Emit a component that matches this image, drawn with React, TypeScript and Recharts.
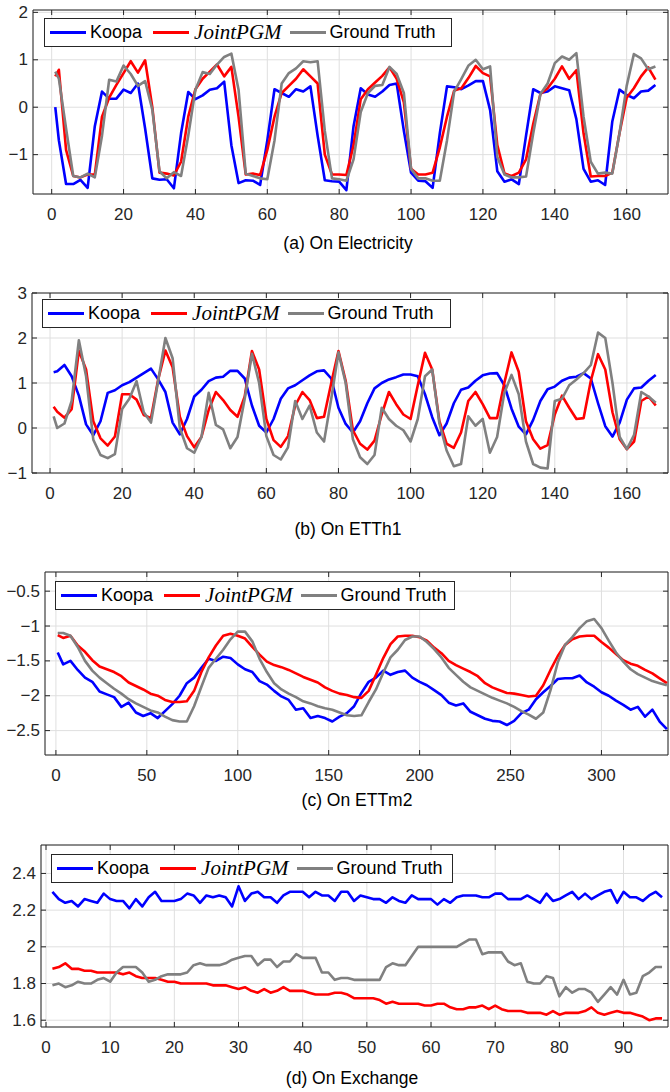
import React from "react";
import { CartesianGrid, Line, LineChart, ReferenceArea, XAxis, YAxis } from "recharts";

const BLUE = "#0000ff";
const RED = "#ff0000";
const GRAY = "#808080";
const AXIS = "#262626";
const GRID = "#dfdfdf";
const SANS = "'Liberation Sans', Arial, Helvetica, sans-serif";
const SERIF = "'Liberation Serif', 'Times New Roman', serif";

const seriesNames = ["Koopa", "JointPGM", "Ground Truth"];

// (a) Electricity, hourly steps
const elecX = [1, 2, 4, 6, 8, 10, 12, 14, 16, 18, 20, 22, 24, 26, 28, 30, 32, 34, 36, 38, 40, 42, 44, 46, 48, 50, 52, 54, 56, 58, 60, 62, 64, 66, 68, 70, 72, 74, 76, 78, 80, 82, 84, 86, 88, 90, 92, 94, 96, 98, 100, 102, 104, 106, 108, 110, 112, 114, 116, 118, 120, 122, 124, 126, 128, 130, 132, 134, 136, 138, 140, 142, 144, 146, 148, 150, 152, 154, 156, 158, 160, 162, 164, 166, 168];
const elecKoopa = [0, -0.7, -1.62, -1.62, -1.53, -1.7, -0.4, 0.33, 0.18, 0.18, 0.37, 0.3, 0.5, -0.45, -1.5, -1.53, -1.52, -1.71, -0.55, 0.32, 0.17, 0.25, 0.37, 0.4, 0.54, -0.8, -1.6, -1.54, -1.55, -1.64, -0.7, 0.38, 0.3, 0.22, 0.38, 0.33, 0.44, -0.6, -1.54, -1.56, -1.57, -1.75, -0.4, 0.4, 0.27, 0.22, 0.33, 0.47, 0.5, -0.5, -1.38, -1.55, -1.56, -1.7, -0.55, 0.44, 0.42, 0.38, 0.46, 0.55, 0.55, -0.06, -1.35, -1.57, -1.52, -1.62, -0.6, 0.38, 0.3, 0.33, 0.44, 0.4, 0.36, -0.25, -1.3, -1.57, -1.54, -1.64, -0.3, 0.37, 0.26, 0.19, 0.33, 0.35, 0.47];
const elecJoint = [0.65, 0.79, -0.9, -1.45, -1.48, -1.42, -1.42, -0.2, 0.2, 0.47, 0.72, 0.97, 0.73, 0.99, 0.0, -1.38, -1.4, -1.44, -1.15, -0.2, 0.38, 0.6, 0.75, 0.9, 0.65, 0.85, -0.2, -1.42, -1.4, -1.43, -0.9, -0.2, 0.3, 0.45, 0.6, 0.8, 0.65, 0.5, -1.0, -1.42, -1.42, -1.43, -0.8, 0.17, 0.38, 0.52, 0.66, 0.84, 0.6, 0.1, -1.3, -1.42, -1.42, -1.38, -0.85, -0.2, 0.35, 0.4, 0.62, 0.87, 0.72, 0.65, -0.8, -1.4, -1.45, -1.38, -1.1, -0.35, 0.28, 0.4, 0.6, 0.86, 0.6, 0.78, -0.55, -1.46, -1.45, -1.45, -1.38, -0.55, 0.2, 0.4, 0.65, 0.84, 0.58];
const elecTruth = [0.75, 0.6, -0.45, -1.45, -1.48, -1.4, -1.48, -0.6, 0.58, 0.54, 0.88, 0.7, 0.45, 0.55, -0.05, -1.35, -1.5, -1.37, -1.45, -0.6, 0.37, 0.74, 0.7, 0.9, 1.06, 1.13, 0.37, -1.4, -1.45, -1.5, -1.52, -0.7, 0.5, 0.72, 0.82, 0.97, 0.95, 0.97, -0.5, -1.5, -1.52, -1.55, -1.1, -0.1, 0.3, 0.45, 0.47, 0.85, 0.7, 0.3, -1.3, -1.5, -1.5, -1.55, -1.55, -0.7, 0.33, 0.6, 0.88, 1.0, 0.8, 0.86, -1.05, -1.42, -1.48, -1.48, -1.46, -0.55, 0.28, 0.5, 0.93, 1.07, 1.0, 1.14, -0.2, -1.15, -1.4, -1.38, -1.4, -0.55, 0.45, 1.12, 1.03, 0.8, 0.86];

// (b) ETTh1
const etth1X = elecX;
const etth1Koopa = [1.24, 1.26, 1.4, 1.15, 0.72, 0.08, -0.16, 0.15, 0.78, 0.84, 0.95, 1.02, 1.12, 1.22, 1.32, 1.08, 0.8, 0.12, -0.14, 0.2, 0.7, 0.85, 1.04, 1.12, 1.14, 1.27, 1.27, 1.1, 0.5, 0.05, -0.1, 0.2, 0.65, 0.88, 0.95, 1.06, 1.17, 1.26, 1.28, 1.1, 0.45, 0.09, -0.1, 0.15, 0.55, 0.88, 1.0, 1.08, 1.13, 1.19, 1.19, 1.15, 0.75, 0.24, -0.16, 0.1, 0.55, 0.85, 0.9, 1.05, 1.17, 1.21, 1.22, 0.95, 0.43, 0.03, -0.14, 0.18, 0.6, 0.86, 0.92, 1.05, 1.12, 1.14, 1.22, 1.1, 0.55, 0.04, -0.19, 0.12, 0.63, 0.88, 0.9, 1.05, 1.18];
const etth1Joint = [0.47, 0.36, 0.23, 0.42, 1.72, 1.3, 0.15, -0.23, -0.39, -0.19, 0.75, 0.75, 0.63, 0.29, 0.22, 1.08, 1.72, 1.35, 0.25, -0.18, -0.43, -0.2, 0.4, 0.8, 0.62, 0.4, 0.25, 0.7, 1.71, 1.3, 0.2, -0.27, -0.42, -0.18, 0.5, 0.8, 0.62, 0.22, 0.25, 1.0, 1.71, 1.05, -0.05, -0.35, -0.48, -0.28, 0.3, 0.8, 0.53, 0.3, 0.2, 0.95, 1.67, 1.3, 0.15, -0.35, -0.44, -0.1, 0.6, 0.8, 0.53, 0.22, 0.22, 1.0, 1.68, 1.25, 0.15, -0.25, -0.46, -0.38, 0.3, 0.72, 0.45, 0.2, 0.22, 1.05, 1.64, 1.3, 0.35, -0.25, -0.47, -0.3, 0.6, 0.7, 0.5];
const etth1Truth = [0.26, 0.0, 0.1, 0.6, 1.95, 1.15, -0.26, -0.6, -0.67, -0.58, 0.42, 0.65, 1.04, 0.35, 0.12, 1.05, 2.0, 1.55, 0.0, -0.45, -0.55, -0.2, 0.78, 0.07, -0.03, -0.45, -0.2, 0.65, 1.65, 1.0, -0.18, -0.6, -0.7, -0.43, 0.6, 0.2, 0.5, -0.1, -0.3, 0.65, 1.68, 1.0, -0.25, -0.65, -0.8, -0.6, 0.45, 0.2, 0.05, -0.05, -0.3, 0.2, 1.15, 1.3, 0.1, -0.5, -0.85, -0.8, 0.26, 0.05, 0.2, -0.55, -0.2, 0.78, 1.18, 0.75, -0.3, -0.8, -0.88, -0.9, 0.6, 0.65, 0.95, 1.08, 1.22, 1.4, 2.12, 2.0, 1.0, -0.2, -0.47, -0.15, 0.8, 0.7, 0.56];

// (c) ETTm2, 15-minute steps
const ettm2X = [1, 4, 8, 12, 16, 20, 24, 28, 32, 36, 40, 44, 48, 52, 56, 60, 64, 68, 72, 76, 80, 84, 88, 92, 96, 100, 104, 108, 112, 116, 120, 124, 128, 132, 136, 140, 144, 148, 152, 156, 160, 164, 168, 172, 176, 180, 184, 188, 192, 196, 200, 204, 208, 212, 216, 220, 224, 228, 232, 236, 240, 244, 248, 252, 256, 260, 264, 268, 272, 276, 280, 284, 288, 292, 296, 300, 304, 308, 312, 316, 320, 324, 328, 332, 336];
const ettm2Koopa = [-1.38, -1.55, -1.5, -1.63, -1.74, -1.8, -1.94, -1.98, -2.02, -2.16, -2.1, -2.24, -2.29, -2.25, -2.32, -2.22, -2.12, -2.0, -1.82, -1.74, -1.6, -1.47, -1.5, -1.44, -1.46, -1.55, -1.62, -1.66, -1.79, -1.84, -1.93, -2.01, -2.06, -2.2, -2.18, -2.32, -2.29, -2.32, -2.37, -2.3, -2.25, -2.15, -1.96, -1.8, -1.74, -1.64, -1.7, -1.66, -1.64, -1.74, -1.8, -1.85, -1.92, -1.99, -2.1, -2.14, -2.11, -2.23, -2.28, -2.33, -2.36, -2.37, -2.42, -2.36, -2.25, -2.2, -2.05, -1.95, -1.86, -1.76, -1.75, -1.75, -1.71, -1.81, -1.87, -1.95, -2.0, -2.07, -2.13, -2.2, -2.16, -2.3, -2.2, -2.37, -2.48];
const ettm2Joint = [-1.13, -1.17, -1.14, -1.28, -1.37, -1.49, -1.58, -1.62, -1.66, -1.72, -1.81, -1.86, -1.91, -1.97, -2.0, -2.06, -2.09, -2.09, -2.08, -1.93, -1.66, -1.45, -1.28, -1.14, -1.11, -1.14, -1.18, -1.3, -1.41, -1.51, -1.56, -1.59, -1.63, -1.68, -1.73, -1.77, -1.81, -1.88, -1.93, -1.97, -1.99, -2.02, -2.03, -1.93, -1.7, -1.46, -1.26, -1.15, -1.14, -1.14, -1.16, -1.21, -1.31, -1.39, -1.5, -1.56, -1.61, -1.66, -1.72, -1.82, -1.88, -1.92, -1.96, -1.97, -1.99, -2.01, -2.0, -1.85, -1.63, -1.43, -1.27, -1.19, -1.15, -1.14, -1.14, -1.23, -1.31, -1.4, -1.49, -1.54, -1.57, -1.63, -1.68, -1.75, -1.82];
const ettm2Truth = [-1.1, -1.1, -1.14, -1.3, -1.5, -1.64, -1.74, -1.82, -1.9, -1.97, -2.05, -2.11, -2.16, -2.21, -2.24, -2.3, -2.35, -2.37, -2.37, -2.15, -1.87, -1.6, -1.47, -1.34, -1.19, -1.08, -1.08, -1.22, -1.47, -1.66, -1.82, -1.91, -1.97, -2.02, -2.08, -2.11, -2.15, -2.18, -2.2, -2.24, -2.28, -2.29, -2.28, -2.09, -1.91, -1.67, -1.45, -1.34, -1.2, -1.15, -1.15, -1.23, -1.33, -1.45, -1.6, -1.7, -1.8, -1.88, -1.93, -1.98, -2.03, -2.07, -2.11, -2.16, -2.22, -2.27, -2.33, -2.24, -1.92, -1.52, -1.27, -1.16, -1.03, -0.93, -0.9, -1.03, -1.21, -1.38, -1.51, -1.62, -1.69, -1.74, -1.79, -1.82, -1.85];

// (d) Exchange, daily steps
const exchX = [1, 2, 3, 4, 5, 6, 7, 8, 9, 10, 11, 12, 13, 14, 15, 16, 17, 18, 19, 20, 21, 22, 23, 24, 25, 26, 27, 28, 29, 30, 31, 32, 33, 34, 35, 36, 37, 38, 39, 40, 41, 42, 43, 44, 45, 46, 47, 48, 49, 50, 51, 52, 53, 54, 55, 56, 57, 58, 59, 60, 61, 62, 63, 64, 65, 66, 67, 68, 69, 70, 71, 72, 73, 74, 75, 76, 77, 78, 79, 80, 81, 82, 83, 84, 85, 86, 87, 88, 89, 90, 91, 92, 93, 94, 95, 96];
const exchKoopa = [2.3, 2.26, 2.24, 2.25, 2.22, 2.26, 2.25, 2.24, 2.29, 2.26, 2.25, 2.25, 2.21, 2.26, 2.22, 2.27, 2.3, 2.25, 2.25, 2.25, 2.26, 2.29, 2.28, 2.24, 2.28, 2.27, 2.28, 2.27, 2.22, 2.33, 2.25, 2.29, 2.3, 2.27, 2.27, 2.24, 2.28, 2.3, 2.3, 2.3, 2.27, 2.3, 2.28, 2.28, 2.25, 2.3, 2.3, 2.25, 2.28, 2.27, 2.26, 2.26, 2.24, 2.27, 2.25, 2.24, 2.28, 2.26, 2.26, 2.26, 2.23, 2.26, 2.24, 2.27, 2.28, 2.28, 2.28, 2.27, 2.27, 2.29, 2.29, 2.26, 2.26, 2.26, 2.28, 2.26, 2.24, 2.29, 2.25, 2.26, 2.28, 2.3, 2.26, 2.29, 2.26, 2.28, 2.3, 2.31, 2.24, 2.3, 2.27, 2.27, 2.25, 2.28, 2.3, 2.27];
const exchJoint = [1.88, 1.89, 1.91, 1.88, 1.88, 1.87, 1.87, 1.86, 1.86, 1.86, 1.86, 1.85, 1.86, 1.84, 1.83, 1.83, 1.83, 1.82, 1.81, 1.81, 1.8, 1.8, 1.8, 1.8, 1.8, 1.79, 1.79, 1.79, 1.78, 1.77, 1.78, 1.76, 1.75, 1.77, 1.75, 1.76, 1.78, 1.76, 1.76, 1.76, 1.75, 1.74, 1.74, 1.74, 1.75, 1.75, 1.74, 1.72, 1.72, 1.72, 1.72, 1.71, 1.69, 1.7, 1.69, 1.69, 1.69, 1.69, 1.68, 1.68, 1.69, 1.69, 1.67, 1.66, 1.66, 1.67, 1.67, 1.68, 1.66, 1.68, 1.66, 1.65, 1.65, 1.65, 1.64, 1.64, 1.64, 1.63, 1.65, 1.63, 1.64, 1.64, 1.64, 1.65, 1.67, 1.64, 1.63, 1.64, 1.65, 1.64, 1.64, 1.63, 1.62, 1.6, 1.61, 1.61];
const exchTruth = [1.79, 1.8, 1.78, 1.79, 1.81, 1.8, 1.8, 1.82, 1.83, 1.81, 1.86, 1.89, 1.89, 1.89, 1.86, 1.81, 1.82, 1.84, 1.85, 1.85, 1.85, 1.86, 1.9, 1.91, 1.9, 1.9, 1.9, 1.91, 1.93, 1.94, 1.95, 1.95, 1.9, 1.93, 1.93, 1.89, 1.92, 1.92, 1.96, 1.94, 1.94, 1.94, 1.86, 1.86, 1.82, 1.83, 1.83, 1.82, 1.82, 1.82, 1.82, 1.82, 1.89, 1.91, 1.9, 1.9, 1.95, 2.0, 2.0, 2.0, 2.0, 2.0, 2.0, 2.0, 2.02, 2.04, 2.04, 1.96, 1.97, 1.97, 1.97, 1.92, 1.9, 1.91, 1.81, 1.8, 1.8, 1.84, 1.83, 1.73, 1.78, 1.75, 1.77, 1.77, 1.75, 1.7, 1.74, 1.78, 1.74, 1.82, 1.74, 1.75, 1.84, 1.86, 1.89, 1.89];

const ticks160 = [0, 20, 40, 60, 80, 100, 120, 140, 160];
const ticks300 = [0, 50, 100, 150, 200, 250, 300];
const ticks90 = [0, 10, 20, 30, 40, 50, 60, 70, 80, 90];

type Row = { x: number; koopa: number; joint: number; truth: number };
type Box = { left: number; top: number; right: number; bottom: number };

function makeRows(xs: number[], k: number[], j: number[], g: number[]): Row[] {
  return xs.map((x, i) => ({ x, koopa: k[i], joint: j[i], truth: g[i] }));
}

const fmt = (v: number) => (v < 0 ? "\u2212" + String(-v) : String(v));

type PanelProps = {
  top: number;
  height: number;
  box: Box;
  xDomain: [number, number];
  yDomain: [number, number];
  xTicks: number[];
  yTicks: number[];
  rows: Row[];
  title: string;
  titleX: number;
  titleY: number;
  legend: { left: number; top: number; width: number };
};

function LegendBox({ left, top, width }: { left: number; top: number; width: number }) {
  const sample = (color: string, ml: number) => (
    <div style={{ width: 36, height: 2.5, background: color, marginLeft: ml, flex: "none" }} />
  );
  return (
    <div
      style={{
        position: "absolute",
        left,
        top,
        width,
        height: 29,
        boxSizing: "border-box",
        border: `1px solid ${AXIS}`,
        background: "#fff",
        display: "flex",
        alignItems: "center",
        fontFamily: SANS,
        fontSize: 18,
        color: "#000",
        whiteSpace: "nowrap",
      }}
    >
      {sample(BLUE, 5)}
      <span style={{ marginLeft: 4 }}>{seriesNames[0]}</span>
      {sample(RED, 11)}
      <span style={{ marginLeft: 5, fontFamily: SERIF, fontStyle: "italic", fontSize: 21 }}>{seriesNames[1]}</span>
      {sample(GRAY, 8)}
      <span style={{ marginLeft: 4 }}>{seriesNames[2]}</span>
    </div>
  );
}

function Panel(p: PanelProps) {
  const t = p.box.top - p.top;
  const b = p.box.bottom - p.top;
  const XTick = (props: any) => (
    <g>
      <line x1={props.x} x2={props.x} y1={b} y2={b - 5} stroke={AXIS} />
      <line x1={props.x} x2={props.x} y1={t} y2={t + 5} stroke={AXIS} />
      <text x={props.x} y={b + 20} textAnchor="middle" dominantBaseline="central" fontSize={17} fontFamily={SANS} fill={AXIS}>
        {fmt(props.payload.value)}
      </text>
    </g>
  );
  const YTick = (props: any) => (
    <g>
      <line x1={p.box.left} x2={p.box.left + 5} y1={props.y} y2={props.y} stroke={AXIS} />
      <line x1={p.box.right} x2={p.box.right - 5} y1={props.y} y2={props.y} stroke={AXIS} />
      <text x={p.box.left - 5} y={props.y} textAnchor="end" dominantBaseline="central" fontSize={17} fontFamily={SANS} fill={AXIS}>
        {fmt(props.payload.value)}
      </text>
    </g>
  );
  return (
    <>
      <div style={{ position: "absolute", left: 0, top: p.top, width: 670, height: p.height }}>
        <LineChart
          width={670}
          height={p.height}
          data={p.rows}
          margin={{ top: t, right: 670 - p.box.right, bottom: 0, left: 0 }}
        >
          <CartesianGrid stroke={GRID} strokeWidth={1} />
          <XAxis
            dataKey="x"
            type="number"
            domain={p.xDomain}
            ticks={p.xTicks}
            interval={0}
            allowDataOverflow
            axisLine={false}
            tickLine={false}
            tick={XTick}
            height={p.height - b}
          />
          <YAxis
            type="number"
            domain={p.yDomain}
            ticks={p.yTicks}
            interval={0}
            allowDataOverflow
            axisLine={false}
            tickLine={false}
            tick={YTick}
            width={p.box.left}
          />
          <Line type="linear" dataKey="koopa" stroke={BLUE} strokeWidth={2.6} dot={false} strokeLinejoin="round" isAnimationActive={false} />
          <Line type="linear" dataKey="joint" stroke={RED} strokeWidth={2.6} dot={false} strokeLinejoin="round" isAnimationActive={false} />
          <Line type="linear" dataKey="truth" stroke={GRAY} strokeWidth={2.6} dot={false} strokeLinejoin="round" isAnimationActive={false} />
          <ReferenceArea
            x1={p.xDomain[0]}
            x2={p.xDomain[1]}
            y1={p.yDomain[0]}
            y2={p.yDomain[1]}
            fill="none"
            fillOpacity={0}
            stroke={AXIS}
            strokeWidth={1}
            ifOverflow="visible"
          />
        </LineChart>
      </div>
      <LegendBox {...p.legend} />
      <div
        style={{
          position: "absolute",
          left: p.titleX - 150,
          top: p.titleY - 11,
          width: 300,
          height: 22,
          lineHeight: "22px",
          textAlign: "center",
          fontFamily: SANS,
          fontSize: 17.5,
          color: "#000",
        }}
      >
        {p.title}
      </div>
    </>
  );
}

export default function App() {
  return (
    <div style={{ position: "absolute", left: 0, top: 0, width: 670, height: 1092, background: "#fff", overflow: "hidden" }}>
      <Panel
        top={0}
        height={230}
        box={{ left: 33, top: 10, right: 668, bottom: 194 }}
        xDomain={[-5.2, 171.5]}
        yDomain={[-1.83, 2.05]}
        xTicks={ticks160}
        yTicks={[-1, 0, 1, 2]}
        rows={makeRows(elecX, elecKoopa, elecJoint, elecTruth)}
        title="(a) On Electricity"
        titleX={348}
        titleY={243}
        legend={{ left: 44, top: 18, width: 408 }}
      />
      <Panel
        top={280}
        height={230}
        box={{ left: 32, top: 293, right: 668, bottom: 473 }}
        xDomain={[-5, 171.4]}
        yDomain={[-1, 3]}
        xTicks={ticks160}
        yTicks={[-1, 0, 1, 2, 3]}
        rows={makeRows(etth1X, etth1Koopa, etth1Joint, etth1Truth)}
        title="(b) On ETTh1"
        titleX={348}
        titleY={529}
        legend={{ left: 42, top: 299, width: 409 }}
      />
      <Panel
        top={560}
        height={230}
        box={{ left: 45, top: 572, right: 668, bottom: 755 }}
        xDomain={[-6, 336.6]}
        yDomain={[-2.85, -0.225]}
        xTicks={ticks300}
        yTicks={[-2.5, -2, -1.5, -1, -0.5]}
        rows={makeRows(ettm2X, ettm2Koopa, ettm2Joint, ettm2Truth)}
        title="(c) On ETTm2"
        titleX={357}
        titleY={800}
        legend={{ left: 55, top: 581, width: 400 }}
      />
      <Panel
        top={835}
        height={230}
        box={{ left: 41, top: 845, right: 668, bottom: 1027 }}
        xDomain={[-0.78, 96.93]}
        yDomain={[1.563, 2.555]}
        xTicks={ticks90}
        yTicks={[1.6, 1.8, 2, 2.2, 2.4]}
        rows={makeRows(exchX, exchKoopa, exchJoint, exchTruth)}
        title="(d) On Exchange"
        titleX={352}
        titleY={1078}
        legend={{ left: 51, top: 854, width: 402 }}
      />
    </div>
  );
}
